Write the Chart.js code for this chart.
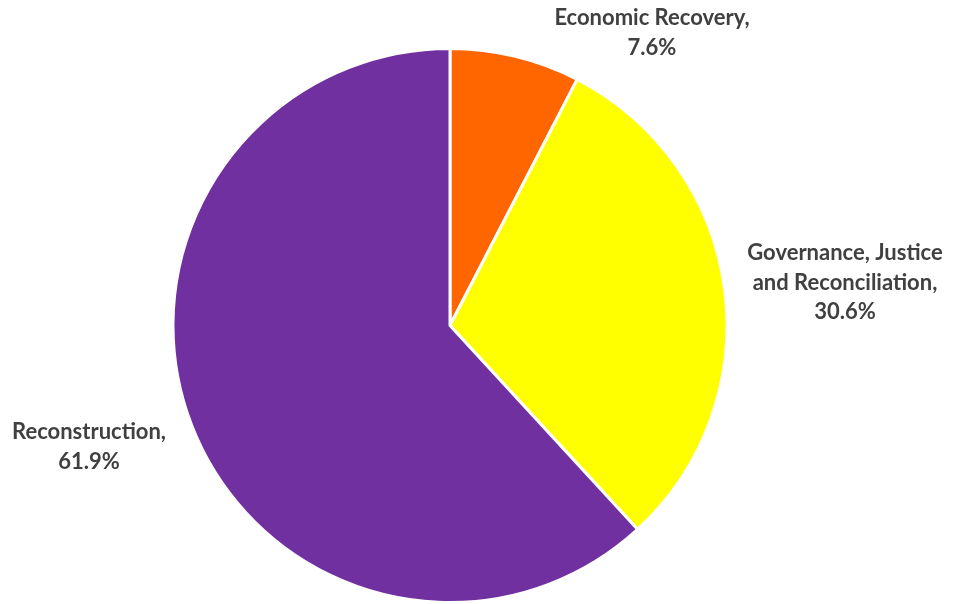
<!DOCTYPE html>
<html>
<head>
<meta charset="utf-8">
<script src="https://cdn.jsdelivr.net/npm/chart.js@4"></script>
<style>
  html, body { margin: 0; padding: 0; background: #fff; }
  #wrap { width: 953px; height: 604px; }
</style>
</head>
<body>
<div id="wrap"><canvas id="pie"></canvas></div>
<script>
// ---------- Data ----------
const categories = ['Economic Recovery', 'Governance, Justice and Reconciliation', 'Reconstruction'];
const shares = [7.6, 30.6, 61.9];
const sliceColors = ['#FF6600', '#FFFF00', '#7030A0'];
// label text lines, as the original wraps them
const labelLines = [
  ['Economic Recovery,', '7.6%'],
  ['Governance, Justice', 'and Reconciliation,', '30.6%'],
  ['Reconstruction,', '61.9%']
];

// ---------- Label plugin (Excel-style best-fit positions) ----------
const labelAnchors = [ {x: 652, y: 18}, {x: 845, y: 253}, {x: 89, y: 432} ];
const LINE_H = 29.5;

const outsideLabels = {
  id: 'outsideLabels',
  afterDatasetsDraw(chart){
    const ctx = chart.ctx;
    ctx.save();
    ctx.font = 'bold 22px Lato, "Open Sans", sans-serif';
    ctx.fillStyle = '#404040';
    ctx.textAlign = 'center';
    ctx.textBaseline = 'middle';
    labelLines.forEach((lines, i) => {
      const a = labelAnchors[i];
      lines.forEach((t, j) => ctx.fillText(t, a.x, a.y + j * LINE_H));
    });
    ctx.restore();
  }
};

new Chart(document.getElementById('pie'), {
  type: 'pie',
  data: {
    labels: categories,
    datasets: [{
      data: shares,
      backgroundColor: sliceColors,
      borderColor: '#ffffff',
      borderWidth: 3
    }]
  },
  options: {
    responsive: true,
    maintainAspectRatio: false,
    animation: false,
    layout: { padding: { top: 47, bottom: 0, left: 0, right: 53 } },
    plugins: {
      legend: { display: false },
      tooltip: { enabled: false }
    }
  },
  plugins: [outsideLabels]
});
</script>
</body>
</html>
